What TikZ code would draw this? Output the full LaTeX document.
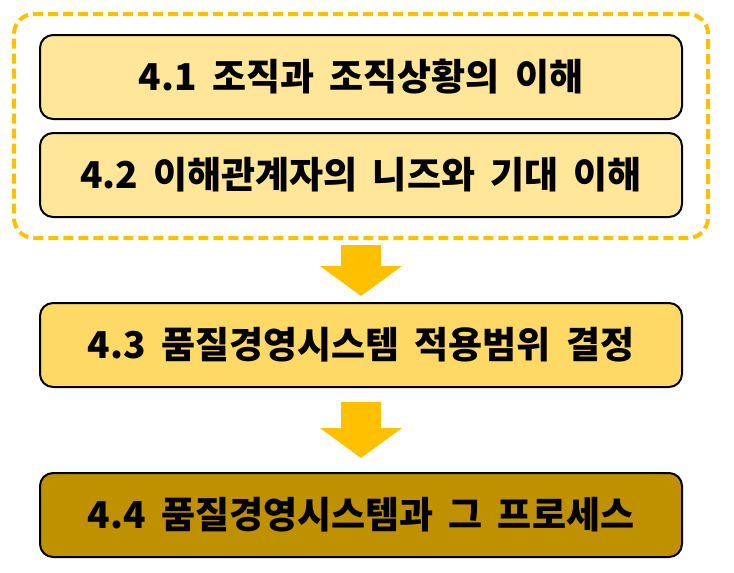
\documentclass[tikz,border=0pt]{standalone}
\usepackage{fontspec}
\setmainfont{Noto Sans CJK KR}[WordSpace=1.8]
\usetikzlibrary{positioning, fit, arrows.meta}
\definecolor{lightgold}{HTML}{FFE699}
\definecolor{midgold}{HTML}{FFD966}
\definecolor{darkgold}{HTML}{BF9000}
\definecolor{amber}{HTML}{FFC000}

\tikzset{
  clause/.style={draw=black, line width=2pt, rounded corners=13pt,
    minimum width=642pt, minimum height=84pt, inner sep=0pt,
    font=\fontsize{37}{42}\selectfont\bfseries},
  ctxgroup/.style={draw=amber, line width=4pt, dash pattern=on 10pt off 5pt,
    rounded corners=20pt, inner xsep=25pt, inner ysep=20pt},
  flowarrow/.style={draw=amber, line width=40pt,
    -{Triangle[length=30pt,width=82pt,line width=0pt]}}
}

\begin{document}
\begin{tikzpicture}[x=1pt,y=1pt]
    \useasboundingbox (0,0) rectangle (734,-573);
    % context of the organization
    \node[clause, fill=lightgold] (org) at (361,-77) {4.1 조직과 조직상황의 이해};
    \node[clause, fill=lightgold, below=12pt of org] (needs) {4.2 이해관계자의 니즈와 기대 이해};
    \node[ctxgroup, fit=(org)(needs)] (ctx) {};
    % scope and system
    \node[clause, fill=midgold, below=84pt of needs] (scope) {4.3 품질경영시스템 적용범위 결정};
    \node[clause, fill=darkgold, below=84pt of scope] (qms) {4.4 품질경영시스템과 그 프로세스};
    \draw[flowarrow, shorten <=5pt, shorten >=6pt] (ctx.south) -- (scope.north);
    \draw[flowarrow, shorten <=14pt, shorten >=14pt] (scope.south) -- (qms.north);
\end{tikzpicture}
\end{document}
